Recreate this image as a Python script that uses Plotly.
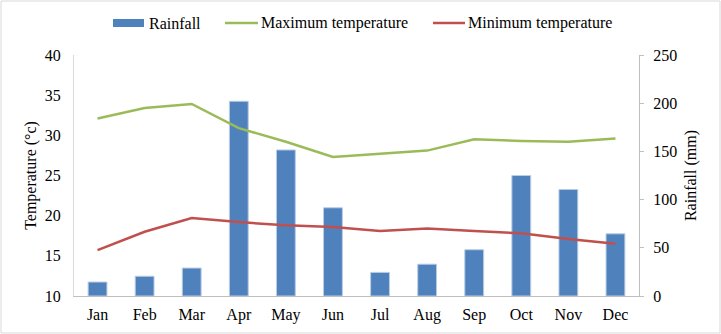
import plotly.graph_objects as go

months = ["Jan", "Feb", "Mar", "Apr", "May", "Jun", "Jul", "Aug", "Sep", "Oct", "Nov", "Dec"]
rainfall = [14.5, 20.5, 29, 202, 151.5, 91.5, 24.5, 33, 48, 125, 110.5, 64.5]
max_temp = [32.1, 33.4, 33.9, 30.9, 29.2, 27.3, 27.7, 28.1, 29.5, 29.3, 29.2, 29.6]
min_temp = [15.7, 18.0, 19.7, 19.2, 18.8, 18.6, 18.1, 18.4, 18.1, 17.8, 17.1, 16.5]

series_names = ["Rainfall", "Maximum temperature", "Minimum temperature"]
colors = ["#4F81BD", "#9BBB59", "#C0504D"]

FONT = "'Liberation Serif', 'Times New Roman', serif"
FS = 16

fig = go.Figure()
fig.add_trace(go.Bar(x=months, y=rainfall, name=series_names[0], yaxis="y",
                     marker=dict(color=colors[0], line=dict(color="#b9cde5", width=1)),
                     width=0.4, showlegend=False))
fig.add_trace(go.Scatter(x=months, y=max_temp, name=series_names[1], yaxis="y2",
                         mode="lines", line=dict(color=colors[1], width=2.5), showlegend=False))
fig.add_trace(go.Scatter(x=months, y=min_temp, name=series_names[2], yaxis="y2",
                         mode="lines", line=dict(color=colors[2], width=2.5), showlegend=False))

L, R, T, B = 74, 82, 55, 38
W, H = 721, 334
pw, ph = W - L - R, H - T - B


def px(x):
    return (x - L) / pw


def py(y):
    return (H - B - y) / ph


fig.update_layout(
    width=W, height=H, autosize=False,
    margin=dict(l=L, r=R, t=T, b=B, autoexpand=False),
    paper_bgcolor="white", plot_bgcolor="white",
    font=dict(family=FONT, size=FS, color="black"),
    showlegend=False,
    xaxis=dict(showline=True, linecolor="#bfbfbf", linewidth=1, showgrid=False,
               ticks="", tickfont=dict(size=FS), ticklabelstandoff=4, tickangle=0),
    yaxis=dict(side="right", range=[0, 250], dtick=50, showgrid=False, zeroline=False,
               showline=True, linecolor="#bfbfbf", ticks="outside", ticklen=4,
               tickcolor="#bfbfbf",
               title=dict(text="Rainfall (mm)", font=dict(size=FS), standoff=8),
               tickfont=dict(size=FS), ticklabelstandoff=6),
    yaxis2=dict(side="left", overlaying="y", range=[10, 40], dtick=5, showgrid=False,
                zeroline=False, showline=True, linecolor="#d9d9d9", ticks="",
                title=dict(text="Temperature (°c)", font=dict(size=FS), standoff=4),
                tickfont=dict(size=FS), ticklabelstandoff=9),
    bargap=0.6,
)

# outer chart border
fig.add_shape(type="rect", xref="paper", yref="paper",
              x0=px(1), x1=px(W - 1), y0=py(H - 1), y1=py(1),
              line=dict(color="#d9d9d9", width=1), layer="below")

# legend (drawn manually to match layout)
ly = 23
fig.add_shape(type="rect", xref="paper", yref="paper",
              x0=px(113), x1=px(144), y0=py(ly + 4), y1=py(ly - 4),
              fillcolor=colors[0], line=dict(width=0))
fig.add_shape(type="line", xref="paper", yref="paper",
              x0=px(225), x1=px(258), y0=py(ly), y1=py(ly),
              line=dict(color=colors[1], width=2.5))
fig.add_shape(type="line", xref="paper", yref="paper",
              x0=px(433), x1=px(465), y0=py(ly), y1=py(ly),
              line=dict(color=colors[2], width=2.5))
for name, xs in zip(series_names, [147, 259, 466]):
    fig.add_annotation(text=name, xref="paper", yref="paper", x=px(xs), y=py(ly),
                       xanchor="left", yanchor="middle", showarrow=False,
                       font=dict(family=FONT, size=FS, color="black"))

fig.write_html("out.html")
